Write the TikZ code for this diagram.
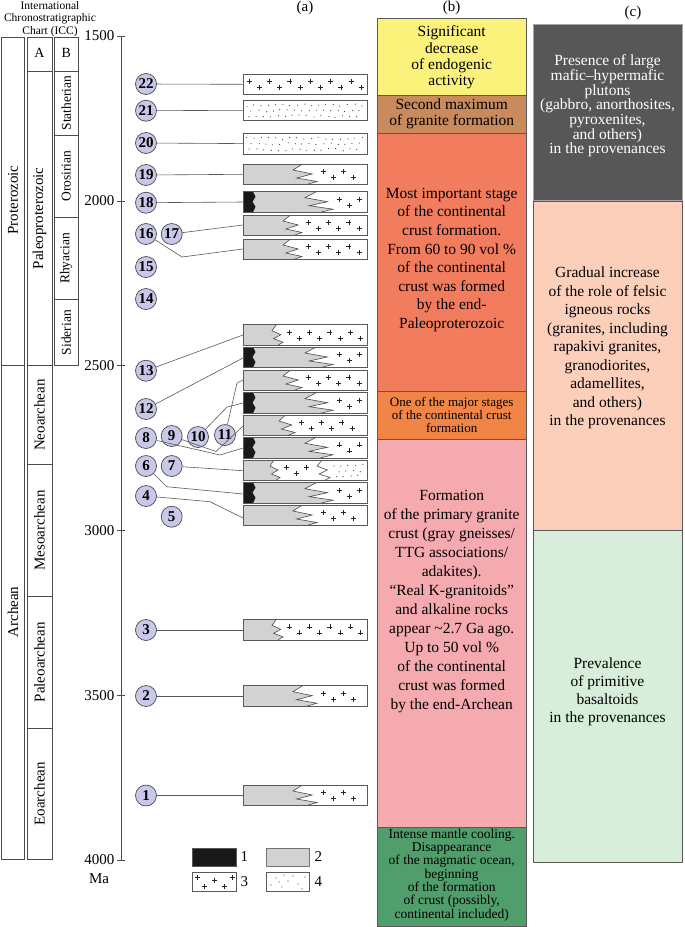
\documentclass[tikz,border=0pt]{standalone}
\usepackage{fontspec}
\setmainfont{Liberation Serif}

\definecolor{lavender}{HTML}{C9C8E8}
\definecolor{rockgray}{HTML}{D2D2D2}
\definecolor{stageyellow}{HTML}{FBF27C}
\definecolor{stagebrown}{HTML}{C98A5E}
\definecolor{stagered}{HTML}{F27C5E}
\definecolor{stageorange}{HTML}{F08546}
\definecolor{stagepink}{HTML}{F4AAAE}
\definecolor{stagegreen}{HTML}{509E6B}
\definecolor{provdark}{HTML}{575757}
\definecolor{provpeach}{HTML}{FCCFBB}
\definecolor{provgreen}{HTML}{D6EEDA}

\newcommand{\setfs}[2]{\fontsize{#1}{#2}\selectfont}

% granite crosses between x = #1 and #2, bar top at #3
\newcommand{\crossrow}[3]{%
  \pgfmathtruncatemacro{\ncross}{((#2)-(#1))/10.2}%
  \foreach \k in {0,...,\ncross}{%
    \pgfmathsetmacro{\crx}{#1+\k*10.2}%
    \pgfmathsetmacro{\cry}{#3+7.5+6*mod(\k,2)}%
    \draw[crossline] (\crx-2.5, \cry) -- (\crx+2.5, \cry) (\crx, \cry-2.5) -- (\crx, \cry+2.5);
  }}

% sediment dots between x = #1 and #2, bar top at #3
\newcommand{\dotrow}[3]{%
  \pgfmathtruncatemacro{\ndot}{((#2)-(#1))/2.4}%
  \foreach \k in {0,...,\ndot}{%
    \pgfmathsetmacro{\dotx}{#1+\k*2.4+rnd*1.5}%
    \pgfmathsetmacro{\doty}{#3+4+5.5*mod(\k*2,3)+rnd*2.5}%
    \fill[black!75] (\dotx, \doty) circle (0.6);
  }}

% zigzag contact at x = #2 (width #3), bar top at #1
\newcommand{\zigcut}[3]{%
  \draw[zigstroke] (#2+0.4*#3, #1) -- (#2, #1+6) -- (#2+0.8*#3, #1+10)
    -- (#2+0.15*#3, #1+14) -- (#2+#3, #1+17.5) -- (#2+0.55*#3, #1+20.6);}

\newcommand{\zigfill}[3]{%
  \fill[rockgray] (243, #1) -- (#2+0.4*#3, #1) -- (#2, #1+6) -- (#2+0.8*#3, #1+10)
    -- (#2+0.15*#3, #1+14) -- (#2+#3, #1+17.5) -- (#2+0.55*#3, #1+20.6) -- (243, #1+20.6) -- cycle;
  \zigcut{#1}{#2}{#3}}

% gneiss bar: gray, zigzag, then granite
\newcommand{\rockbar}[3]{%
  \zigfill{#1}{#2}{#3}%
  \crossrow{#2+#3+6}{361}{#1}%
  \draw[barframe] (243, #1) rectangle (367, #1+20.6);}

% same, with a black core at the left end
\newcommand{\corebar}[3]{%
  \zigfill{#1}{#2}{#3}%
  \fill[black!90] (243, #1) -- (253, #1) -- (255.5, #1+5) -- (252.5, #1+10)
    -- (255.5, #1+15) -- (253, #1+20.6) -- (243, #1+20.6) -- cycle;
  \crossrow{#2+#3+6}{361}{#1}%
  \draw[barframe] (243, #1) rectangle (367, #1+20.6);}

\begin{document}
\begin{tikzpicture}[x=1pt, y=-1pt,
    numcirc/.style={circle, draw=black!70, line width=0.7pt, fill=lavender, minimum size=21pt,
      inner sep=0pt, font=\bfseries\setfs{15}{15}},
    wire/.style={draw=black!65, line width=0.6pt},
    barframe/.style={draw=black!65, line width=0.7pt},
    zigstroke/.style={draw=black!70, line width=0.6pt},
    crossline/.style={draw=black!85, line width=0.6pt},
    chartbox/.style={draw=black!70, line width=0.6pt},
    stagebox/.style={draw=black!65, line width=0.6pt},
    stagetext/.style={align=center, inner sep=0pt},
    vlabel/.style={rotate=90, inner sep=0pt}]

  \useasboundingbox (0, 0) rectangle (685, 927);
  \pgfmathsetseed{11}

  % ICC chart header
  \node[stagetext, font=\setfs{11.5}{12.3}] (icc) at (50, 19)
    {International\\Chronostratigraphic\\Chart (ICC)};

  % eons
  \draw[chartbox] (1.5, 37) rectangle (24, 365.6);
  \draw[chartbox] (1.5, 365.6) rectangle (24, 859.5);
  \node[vlabel, font=\setfs{15}{15}] (eon-p) at (13, 200) {Proterozoic};
  \node[vlabel, font=\setfs{15}{15}] (eon-a) at (13, 612) {Archean};

  % eras (column A)
  \draw[chartbox] (27, 37) rectangle (52, 71);
  \node[font=\setfs{14}{14}] (col-a) at (39.5, 53) {A};
  \foreach \top/\bot/\name in {71/365.6/Paleoproterozoic, 365.6/464.5/Neoarchean,
      464.5/596.3/Mesoarchean, 596.3/728.1/Paleoarchean, 728.1/859.5/Eoarchean} {
    \draw[chartbox] (27, \top) rectangle (52, \bot);
    \node[vlabel, font=\setfs{15}{15}] (era-\name) at (39.5, {(\top+\bot)/2}) {\name};
  }

  % periods (column B)
  \draw[chartbox] (54.5, 37) rectangle (78, 71);
  \node[font=\setfs{14}{14}] (col-b) at (66.2, 53) {B};
  \foreach \top/\bot/\name in {71/134.9/Statherian, 134.9/217.3/Orosirian,
      217.3/299.7/Rhyacian, 299.7/365.6/Siderian} {
    \draw[chartbox] (54.5, \top) rectangle (78, \bot);
    \node[vlabel, font=\setfs{13.5}{13.5}] (per-\name) at (66.2, {(\top+\bot)/2}) {\name};
  }

  % age axis
  \draw[chartbox] (121, 36) -- (121, 860);
  \foreach \t in {1500,2000,...,4000} {
    \pgfmathsetmacro{\ty}{36+(\t-1500)*0.3296}
    \draw[chartbox] (117, \ty) -- (125, \ty);
    \node[anchor=east, inner sep=0pt, font=\setfs{15}{15}] (age\t) at (114.5, \ty) {\t};
  }
  \node[font=\setfs{15}{15}] (ma) at (99, 879) {Ma};

  % panel letters
  \node[font=\setfs{15}{15}] (hdr-a) at (305, 8) {(a)};
  \node[font=\setfs{15}{15}] (hdr-b) at (451.7, 8) {(b)};
  \node[font=\setfs{15}{15}] (hdr-c) at (633, 13) {(c)};

  % (a) -- bars, youngest on top
  \crossrow{249}{362}{74}
  \draw[barframe] (243, 74) rectangle (367, 94.6);
  \dotrow{246}{363}{100}
  \draw[barframe] (243, 100) rectangle (367, 120.6);
  \dotrow{246}{363}{133.3}
  \draw[barframe] (243, 133.3) rectangle (367, 153.9);
  \rockbar{164}{293}{24}
  \corebar{191.7}{305}{28}
  \rockbar{215}{283}{19}
  \rockbar{239}{283}{19}
  \rockbar{324.7}{272}{11}
  \corebar{347}{305}{28}
  \rockbar{370}{283}{19}
  \corebar{392.7}{305}{28}
  \rockbar{415}{279}{16}
  \corebar{437.3}{305}{28}
  % bar with granite and then sediments
  \zigfill{460}{270}{10}
  \crossrow{286}{312}{460}
  \zigcut{460}{317}{13}
  \dotrow{333}{363}{460}
  \draw[barframe] (243, 460) rectangle (367, 480.6);
  \corebar{482.7}{305}{28}
  \rockbar{505}{293}{24}
  \rockbar{619.3}{272}{11}
  \rockbar{685.7}{293}{24}
  \rockbar{785}{293}{24}

  % bar ends for the connectors
  \coordinate (b22) at (243, 84.3);
  \coordinate (b21) at (243, 110.3);
  \coordinate (b20) at (243, 143.6);
  \coordinate (b19) at (243, 174.3);
  \coordinate (b18) at (243, 202);
  \coordinate (b17) at (243, 225);
  \coordinate (b16) at (243, 249);
  \coordinate (b13) at (243, 335);
  \coordinate (b12) at (243, 358);
  \coordinate (b11) at (243, 380);
  \coordinate (b10) at (243, 403);
  \coordinate (b9)  at (243, 426);
  \coordinate (b8)  at (243, 448);
  \coordinate (b7)  at (243, 470.7);
  \coordinate (b6)  at (243, 494);
  \coordinate (b4)  at (243, 518);
  \coordinate (b3)  at (243, 630);
  \coordinate (b2)  at (243, 696);
  \coordinate (b1)  at (243, 795.5);

  % numbered samples
  \foreach \n/\x/\y in {22/146/84, 21/146/110.7, 20/146/143, 19/146/175, 18/146/202.7,
      17/171.7/234, 16/146/234, 15/146/267, 14/146/299, 13/146/370.7, 12/146/409,
      11/225/435, 10/198/437, 9/171.7/436, 8/146/438, 7/171.7/466, 6/146/466,
      5/171.7/516.7, 4/146/496, 3/146/630, 2/146/696, 1/146/795.5}
    \node[numcirc] (n\n) at (\x, \y) {\n};

  % connectors
  \foreach \n in {22,21,20,19,18,17,13,12,7,3,2,1}
    \draw[wire] (n\n) -- (b\n);
  \draw[wire] (n16) -- (182, 257) -- (b16);
  \draw[wire] (n11) -- (237, 383) -- (b11);
  \draw[wire] (n10) -- (227, 407) -- (b10);
  \draw[wire] (n9) -- (216, 451.5) -- (b9);
  \draw[wire] (n8) -- (220, 455) -- (b8);
  \draw[wire] (n6) -- (166.7, 486.7) -- (b6);
  \draw[wire] (n4) -- (210, 501.7) -- (b4);

  % legend
  \fill[black!90] (192.7, 848.3) rectangle (236, 866);
  \draw[barframe] (192.7, 848.3) rectangle (236, 866);
  \filldraw[rockgray, draw=black!55, line width=0.7pt] (266, 848.3) rectangle (309, 866);
  \foreach \cx/\cy in {197/877, 204/886, 214/880, 224/886, 232/877}
    \draw[crossline] (\cx-2.5, \cy) -- (\cx+2.5, \cy) (\cx, \cy-2.5) -- (\cx, \cy+2.5);
  \draw[barframe] (192.7, 872.7) rectangle (236, 891.7);
  \foreach \dx/\dy in {271/885, 276/878, 282/887, 288/881, 293/876, 298/884, 302/889, 305/877, 284/875, 279/882}
    \fill[black!75] (\dx, \dy) circle (0.65);
  \draw[barframe] (266, 872.7) rectangle (309, 891.7);
  \node[anchor=west, inner sep=0pt, font=\setfs{15}{15}] (leg1) at (240.5, 857) {1};
  \node[anchor=west, inner sep=0pt, font=\setfs{15}{15}] (leg2) at (314.5, 857) {2};
  \node[anchor=west, inner sep=0pt, font=\setfs{15}{15}] (leg3) at (240.5, 882) {3};
  \node[anchor=west, inner sep=0pt, font=\setfs{15}{15}] (leg4) at (314.5, 882) {4};

  % (b) -- stages of crust formation
  \filldraw[stagebox, fill=stageyellow] (377.5, 18) rectangle (526, 95.7);
  \filldraw[stagebox, fill=stagebrown]  (377.5, 95.7) rectangle (526, 133.3);
  \filldraw[stagebox, fill=stagered]    (377.5, 133.3) rectangle (526, 391);
  \filldraw[stagebox, fill=stageorange] (377.5, 391) rectangle (526, 439);
  \filldraw[stagebox, fill=stagepink]   (377.5, 439) rectangle (526, 827.3);
  \filldraw[stagebox, fill=stagegreen]  (377.5, 827.3) rectangle (526, 926);

  \node[stagetext, font=\setfs{15.5}{16.3}] (st-decrease) at (451.7, 57.5)
    {Significant\\decrease\\of endogenic\\activity};
  \node[stagetext, font=\setfs{15.5}{15.7}] (st-second) at (451.7, 114)
    {Second maximum\\of granite formation};
  \node[stagetext, font=\setfs{15.5}{18.6}] (st-main) at (451.7, 260)
    {Most important stage\\of the continental\\crust formation.\\From 60 to 90 vol \%\\of the continental\\crust was formed\\by the end-\\Paleoproterozoic};
  \node[stagetext, font=\setfs{13}{13.3}] (st-major) at (451.7, 415)
    {One of the major stages\\of the continental crust\\formation};
  \node[stagetext, font=\setfs{15.5}{19}] (st-primary) at (451.7, 601.7)
    {Formation\\of the primary granite\\crust (gray gneisses/\\TTG associations/\\adakites).\\“Real K-granitoids”\\and alkaline rocks\\appear \textasciitilde2.7 Ga ago.\\Up to 50 vol \%\\of the continental\\crust was formed\\by the end-Archean};
  \node[stagetext, font=\setfs{13.5}{13.3}] (st-cooling) at (451.7, 875)
    {Intense mantle cooling.\\Disappearance\\of the magmatic ocean,\\beginning\\of the formation\\of crust (possibly,\\continental included)};

  % (c) -- rocks in the provenances
  \filldraw[draw=black!35, line width=0.8pt, fill=provdark] (533, 24) rectangle (682, 200.8);
  \filldraw[stagebox, fill=provpeach] (533, 200.8) rectangle (682, 530.4);
  \filldraw[stagebox, fill=provgreen] (533, 530.4) rectangle (682, 862);

  \node[stagetext, text=white, font=\setfs{15.5}{14.7}] (pv-mafic) at (607.5, 106)
    {Presence of large\\mafic--hypermafic\\plutons\\(gabbro, anorthosites,\\pyroxenites,\\and others)\\in the provenances};
  \node[stagetext, font=\setfs{15.5}{18.5}] (pv-felsic) at (607.5, 348)
    {Gradual increase\\of the role of felsic\\igneous rocks\\(granites, including\\rapakivi granites,\\granodiorites,\\adamellites,\\and others)\\in the provenances};
  \node[stagetext, font=\setfs{15.5}{18}] (pv-basalt) at (607.5, 692)
    {Prevalence\\of primitive\\basaltoids\\in the provenances};

\end{tikzpicture}
\end{document}
